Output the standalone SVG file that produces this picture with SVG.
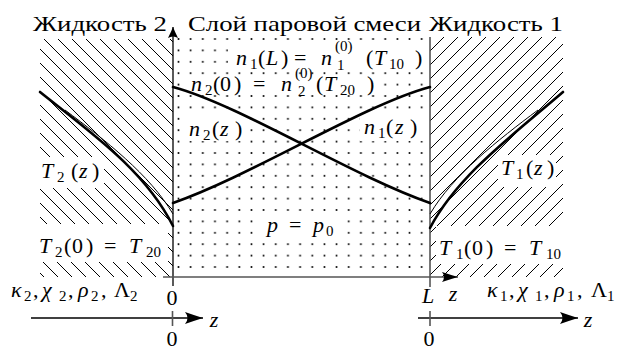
<svg xmlns="http://www.w3.org/2000/svg" width="623" height="350" viewBox="0 0 623 350">
<defs>
<pattern id="dots" patternUnits="userSpaceOnUse" x="172.42" y="33.3" width="12.16" height="11.4">
<circle cx="6.08" cy="5.7" r="1" fill="#000"/>
</pattern>
<pattern id="hatchL" patternUnits="userSpaceOnUse" x="5" y="0" width="14" height="14">
<path d="M-2,-2 L16,16 M-2,12 L2,16 M12,-2 L16,2" stroke="#000" stroke-width="1"/>
</pattern>
<pattern id="hatchR" patternUnits="userSpaceOnUse" x="5" y="0" width="14" height="14">
<path d="M-2,16 L16,-2 M-2,2 L2,-2 M12,16 L16,12" stroke="#000" stroke-width="1"/>
</pattern>
<marker id="ahBig" markerUnits="userSpaceOnUse" markerWidth="20" markerHeight="14" viewBox="-19 -7 20 14" refX="0" refY="0" orient="auto">
<path d="M0,0 Q-8,-2.5 -18,-6 Q-13,0 -18,6 Q-8,2.5 0,0Z" fill="#000"/>
</marker>
<marker id="ahMid" markerUnits="userSpaceOnUse" markerWidth="18" markerHeight="12" viewBox="-17 -6 18 12" refX="0" refY="0" orient="auto">
<path d="M0,0 Q-7,-2 -16,-5 Q-12,0 -16,5 Q-7,2 0,0Z" fill="#000"/>
</marker>
<marker id="ahSmall" markerUnits="userSpaceOnUse" markerWidth="13" markerHeight="12" viewBox="-12 -6 13 12" refX="0" refY="0" orient="auto">
<path d="M0,0 Q-5,-2 -11,-5 Q-8,0 -11,5 Q-5,2 0,0Z" fill="#000"/>
</marker>
</defs>

<g id="liquid2">
<rect x="40" y="39" width="133" height="238" fill="url(#hatchL)"/>
<g fill="#fff">
<rect x="40" y="157" width="64" height="31"/>
<rect x="38" y="224" width="130" height="38"/>
</g>
</g>
<g id="liquid1">
<rect x="430" y="37" width="133" height="240" fill="url(#hatchR)"/>
<g fill="#fff">
<rect x="498" y="155" width="58" height="32"/>
<rect x="436" y="226" width="127" height="38"/>
</g>
</g>
<g id="vapor-layer">
<rect x="173" y="36" width="257" height="241" fill="url(#dots)"/>
<g fill="#fff">
<rect x="228" y="45" width="196" height="22"/>
<rect x="188" y="77" width="190" height="18"/>
<rect x="186" y="112" width="62" height="29"/>
<rect x="360" y="112" width="64" height="29"/>
<rect x="262" y="215" width="78" height="25"/>
</g>
</g>

<g id="connectors" fill="none">
<g stroke="#000" stroke-width="1.3">
<line x1="173" y1="286" x2="173" y2="27" marker-end="url(#ahSmall)"/>
<line x1="31" y1="318" x2="203" y2="318" marker-end="url(#ahBig)"/>
<line x1="418" y1="318" x2="578" y2="318" marker-end="url(#ahBig)"/>
</g>
<g stroke="#555" stroke-width="1.6">
<line x1="430" y1="37" x2="430" y2="287"/>
<line x1="163" y1="277" x2="458" y2="277" marker-end="url(#ahMid)"/>
<line x1="172.5" y1="311" x2="172.5" y2="326"/>
<line x1="430" y1="311" x2="430" y2="326"/>
</g>
</g>

<g id="curves" fill="none" stroke="#000">
<g stroke-width="2.6" stroke-linecap="round">
<path id="n2curve" d="M173,87 C240,105 350,175 430,203"/>
<path id="n1curve" d="M173,203 C253,175 363,105 430,87"/>
<path id="T2curve" d="M40,92 C90,132 145,170 173,226"/>
<path id="T1curve" d="M563,92 C513,135 458,175 430,228"/>
</g>
<g stroke-width="1">
<path d="M65,110 C105,140 150,175 173,214"/>
<path d="M538,110 C498,140 453,175 430,214"/>
</g>
</g>

<g id="titles" fill="#000">
<text font-family="Liberation Serif" font-size="22" x="33" y="31" textLength="134" lengthAdjust="spacingAndGlyphs">Жидкость 2</text>
<text font-family="Liberation Serif" font-size="22" x="188" y="31" textLength="233" lengthAdjust="spacingAndGlyphs">Слой паровой смеси</text>
<text font-family="Liberation Serif" font-size="22" x="429" y="31" textLength="134" lengthAdjust="spacingAndGlyphs">Жидкость 1</text>
</g>

<g id="labels" fill="#000">
<text font-family="Liberation Serif" font-size="22" y="65"><tspan font-style="italic" x="236">n</tspan><tspan font-size="15" x="250" y="69">1</tspan><tspan x="258" y="65">(</tspan><tspan font-style="italic" x="266">L</tspan><tspan x="281">)</tspan><tspan x="294">=</tspan><tspan font-style="italic" x="321">n</tspan><tspan font-size="15" x="335" y="51">(0)</tspan><tspan font-size="15" x="337" y="70">1</tspan><tspan x="366" y="65">(</tspan><tspan font-style="italic" x="374">T</tspan><tspan font-size="15" x="389" y="69">10</tspan><tspan x="415" y="65">)</tspan></text>
<text font-family="Liberation Serif" font-size="22" y="91"><tspan font-style="italic" x="191">n</tspan><tspan font-size="15" x="205" y="95">2</tspan><tspan x="213" y="91">(</tspan><tspan x="220">0</tspan><tspan x="234">)</tspan><tspan x="253">=</tspan><tspan font-style="italic" x="281">n</tspan><tspan font-size="15" x="295" y="78">(0)</tspan><tspan font-size="15" x="298" y="96">2</tspan><tspan x="316" y="91">(</tspan><tspan font-style="italic" x="324">T</tspan><tspan font-size="15" x="340" y="95">20</tspan><tspan x="367" y="91">)</tspan></text>
<text font-family="Liberation Serif" font-size="22" y="136"><tspan font-style="italic" x="189">n</tspan><tspan font-size="15" x="203" y="140">2</tspan><tspan x="212" y="136">(</tspan><tspan font-style="italic" x="220">z</tspan><tspan x="235">)</tspan></text>
<text font-family="Liberation Serif" font-size="22" y="134"><tspan font-style="italic" x="364">n</tspan><tspan font-size="15" x="378" y="138">1</tspan><tspan x="386" y="134">(</tspan><tspan font-style="italic" x="395">z</tspan><tspan x="410">)</tspan></text>
<text font-family="Liberation Serif" font-size="22" y="232"><tspan font-style="italic" x="267">p</tspan><tspan x="289">=</tspan><tspan font-style="italic" x="313">p</tspan><tspan font-size="15" x="326" y="236">0</tspan></text>
<text font-family="Liberation Serif" font-size="22" y="178"><tspan font-style="italic" x="41">T</tspan><tspan font-size="15" x="57" y="182">2</tspan><tspan x="71" y="178">(</tspan><tspan font-style="italic" x="79">z</tspan><tspan x="92">)</tspan></text>
<text font-family="Liberation Serif" font-size="22" y="175"><tspan font-style="italic" x="501">T</tspan><tspan font-size="15" x="516" y="179">1</tspan><tspan x="526" y="175">(</tspan><tspan font-style="italic" x="534">z</tspan><tspan x="547">)</tspan></text>
<text font-family="Liberation Serif" font-size="22" y="253"><tspan font-style="italic" x="39">T</tspan><tspan font-size="15" x="55" y="257">2</tspan><tspan x="64" y="253">(</tspan><tspan x="72">0</tspan><tspan x="86">)</tspan><tspan x="104">=</tspan><tspan font-style="italic" x="129">T</tspan><tspan font-size="15" x="146" y="257">20</tspan></text>
<text font-family="Liberation Serif" font-size="22" y="255"><tspan font-style="italic" x="439">T</tspan><tspan font-size="15" x="456" y="259">1</tspan><tspan x="464" y="255">(</tspan><tspan x="472">0</tspan><tspan x="486">)</tspan><tspan x="504">=</tspan><tspan font-style="italic" x="529">T</tspan><tspan font-size="15" x="546" y="259">10</tspan></text>
<text font-family="Liberation Serif" font-size="22" y="297"><tspan font-style="italic" x="11">κ</tspan><tspan font-size="15" x="24" y="301">2</tspan><tspan x="33" y="297">,</tspan><tspan font-style="italic" x="42">χ</tspan><tspan font-size="15" x="59" y="301">2</tspan><tspan x="68" y="297">,</tspan><tspan font-style="italic" x="78">ρ</tspan><tspan font-size="15" x="91" y="301">2</tspan><tspan x="101" y="297">,</tspan><tspan x="114">Λ</tspan><tspan font-size="15" x="130" y="301">2</tspan></text>
<text font-family="Liberation Serif" font-size="22" y="297"><tspan font-style="italic" x="487">κ</tspan><tspan font-size="15" x="500" y="301">1</tspan><tspan x="509" y="297">,</tspan><tspan font-style="italic" x="518">χ</tspan><tspan font-size="15" x="535" y="301">1</tspan><tspan x="544" y="297">,</tspan><tspan font-style="italic" x="554">ρ</tspan><tspan font-size="15" x="567" y="301">1</tspan><tspan x="577" y="297">,</tspan><tspan x="591">Λ</tspan><tspan font-size="15" x="607" y="301">1</tspan></text>
<text font-family="Liberation Serif" font-size="22" x="172" y="305" text-anchor="middle">0</text>
<text font-family="Liberation Serif" font-size="22" font-style="italic" x="428" y="303" text-anchor="middle">L</text>
<text font-family="Liberation Serif" font-size="22" font-style="italic" x="453" y="301" text-anchor="middle">z</text>
<text font-family="Liberation Serif" font-size="22" font-style="italic" x="214" y="327" text-anchor="middle">z</text>
<text font-family="Liberation Serif" font-size="22" x="172" y="346" text-anchor="middle">0</text>
<text font-family="Liberation Serif" font-size="22" font-style="italic" x="588" y="327" text-anchor="middle">z</text>
<text font-family="Liberation Serif" font-size="22" x="429" y="346" text-anchor="middle">0</text>
</g>
</svg>
